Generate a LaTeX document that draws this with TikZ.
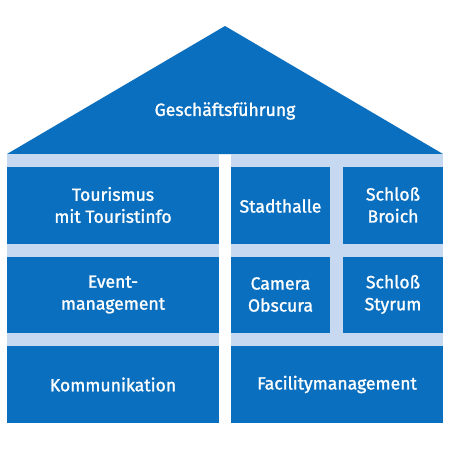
\documentclass[tikz,border=0pt]{standalone}
\usepackage{fontspec}
\setmainfont{Fira Sans}
\newfontfamily\boxfont[RawFeature={embolden=1.3}]{Fira Sans}
\definecolor{hblue}{RGB}{10,111,190}
\definecolor{hlight}{RGB}{198,217,240}
\begin{document}
\begin{tikzpicture}[x=1pt,y=-1pt,
  boxtxt/.style={text=white,align=center,font=\boxfont\fontsize{17.6}{22}\selectfont},
  band/.style={fill=hlight,draw=none},
  cell/.style={fill=hblue,draw=none}]
\useasboundingbox (0,0) rectangle (450,450);
\fill[white] (0,0) rectangle (450,450);
% roof
\fill[hblue] (225,26) -- (443,154) -- (7,154) -- cycle;
\node[boxtxt] (gf) at (225,111) {Geschäftsführung};
% bands
\fill[band] (7,154) rectangle (219,423);
\fill[band] (231,154) rectangle (443,423);
% left column
\fill[cell] (7,167) rectangle (219,244);
\fill[cell] (7,257) rectangle (219,333);
\fill[cell] (7,346) rectangle (219,423);
% right column
\fill[cell] (231,167) rectangle (330,244);
\fill[cell] (343,167) rectangle (443,244);
\fill[cell] (231,257) rectangle (330,333);
\fill[cell] (343,257) rectangle (443,333);
\fill[cell] (231,346) rectangle (443,423);
% labels
\node[boxtxt] (tour) at (113,205) {Tourismus\\mit Touristinfo};
\node[boxtxt] (event) at (113,294.5) {Event-\\management};
\node[boxtxt] (komm) at (113,384.5) {Kommunikation};
\node[boxtxt] (stadt) at (280.5,206) {Stadthalle};
\node[boxtxt] (broich) at (393,205) {Schloß\\Broich};
\node[boxtxt] (camera) at (280.5,294.5) {Camera\\Obscura};
\node[boxtxt] (styrum) at (393,294.5) {Schloß\\Styrum};
\node[boxtxt] (facil) at (337,384.5) {Facilitymanagement};
\end{tikzpicture}
\end{document}
